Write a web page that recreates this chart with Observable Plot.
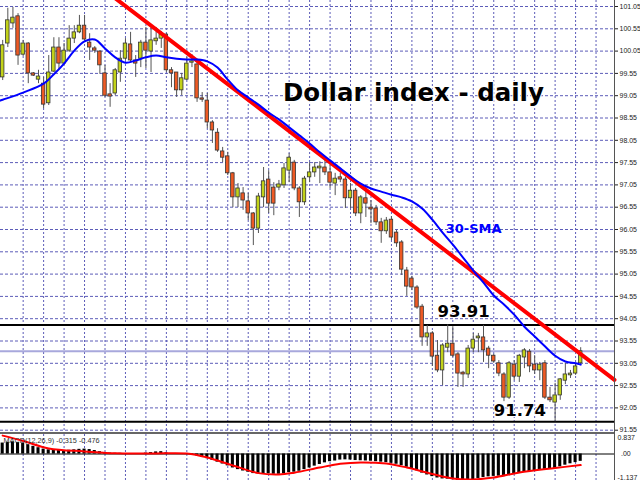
<!DOCTYPE html>
<html><head><meta charset="utf-8">
<script src="https://cdn.jsdelivr.net/npm/d3@7"></script>
<script src="https://cdn.jsdelivr.net/npm/@observablehq/plot@0.6"></script>
<style>
html,body{margin:0;padding:0;background:#fff;}
#chart{width:640px;height:480px;position:relative;overflow:hidden;background:#fff;}
#chart svg{display:block;}
.vline{position:absolute;left:614px;top:0;width:1px;height:480px;background:#555;}
.sep{position:absolute;left:0;top:432px;width:614px;height:2px;background:#666;}
</style></head><body><div id="chart"></div>
<script>
// ---- data (daily candles, index 0..113) ----
const openP = [99.46,100.22,100.67,100.83,99.97,100.22,99.55,99.41,99.32,98.88,
99.59,100.13,99.77,100.06,100.33,100.47,100.62,100.24,100.11,100.04,
99.55,99.08,99.10,99.57,99.88,100.20,99.84,99.88,100.24,100.04,
100.27,100.33,100.42,99.62,99.57,99.17,99.41,99.79,99.75,98.99,
98.94,98.45,98.22,97.80,97.69,97.31,96.77,96.86,96.68,96.41,
96.07,96.77,97.17,96.99,96.99,97.04,97.37,97.55,96.97,96.66,
97.22,97.33,97.42,97.44,97.33,97.08,97.22,97.17,96.75,96.92,
96.41,96.75,96.54,96.52,96.21,96.01,96.27,95.98,95.76,95.13,
94.95,94.75,94.32,93.63,93.72,93.22,92.89,93.40,93.49,93.25,
92.84,92.80,93.38,93.61,93.63,93.38,93.22,93.05,92.80,92.28,
93.02,92.75,93.18,93.31,93.02,92.89,93.05,92.28,92.17,92.33,
92.66,92.78,92.82,93.05];
const highP = [100.29,101.01,101.03,100.89,100.29,100.24,99.57,99.62,99.46,99.95,
100.35,100.35,100.22,100.62,100.62,100.85,100.85,100.44,100.15,100.06,
99.73,99.32,99.66,100.06,100.33,100.47,99.95,100.29,100.58,100.62,
100.58,100.49,100.44,99.68,99.57,99.55,99.91,99.97,99.79,99.12,
99.10,98.49,98.31,97.89,97.78,97.33,97.08,96.99,96.86,96.43,
96.86,97.44,97.37,97.10,97.15,97.53,97.75,97.60,97.01,97.24,
97.55,97.55,97.57,97.60,97.48,97.31,97.31,97.22,97.08,96.97,
96.81,97.04,96.70,96.59,96.30,96.32,96.34,96.03,95.80,95.20,
95.00,94.79,94.37,93.90,93.76,93.56,93.49,93.91,93.87,93.29,
92.87,93.45,93.72,93.72,93.90,93.43,93.25,93.11,92.84,93.09,
93.11,93.25,93.38,93.36,93.22,93.07,93.11,92.51,92.60,92.71,
93.05,92.89,93.05,93.40];
const lowP = [99.39,100.13,100.56,99.73,99.93,99.32,99.48,99.32,98.76,98.83,
99.57,99.62,99.73,100.02,100.22,100.44,100.29,99.84,100.00,99.53,
99.01,98.79,99.05,99.35,99.84,99.79,99.46,99.68,99.66,99.57,
100.18,100.11,99.57,99.23,99.01,99.05,99.39,99.68,98.90,98.90,
98.31,97.98,97.78,97.55,97.26,96.54,96.54,96.48,96.25,95.69,
95.96,96.54,96.41,96.36,96.92,96.97,97.10,96.92,96.32,96.59,
97.10,97.22,97.08,97.26,96.97,96.81,97.10,96.52,96.52,96.34,
96.18,96.32,96.18,96.14,95.74,95.94,95.80,95.65,95.02,94.55,
94.68,94.26,93.43,93.43,92.98,92.84,92.55,93.29,93.18,92.51,
92.51,92.71,93.29,93.29,93.07,92.93,93.05,92.75,92.19,92.24,
92.66,92.62,92.93,92.84,92.80,92.66,92.24,92.17,91.74,92.22,
92.57,92.71,92.78,93.02];
const closeP = [100.18,100.74,100.80,99.95,100.22,99.55,99.50,99.48,98.85,99.57,
100.13,99.77,100.06,100.33,100.47,100.62,100.31,100.13,100.06,99.73,
99.05,99.03,99.62,99.88,100.22,99.84,99.77,100.24,100.06,100.29,
100.33,100.42,99.62,99.55,99.17,99.44,99.77,99.82,98.99,98.96,
98.45,98.27,97.82,97.66,97.31,96.77,96.97,96.70,96.41,96.07,
96.79,97.13,96.63,96.63,97.06,97.42,97.66,96.97,96.66,97.19,
97.33,97.44,97.46,97.33,97.10,97.19,97.17,96.75,96.92,96.41,
96.77,96.63,96.50,96.21,96.01,96.25,95.87,95.74,95.15,94.77,
94.75,94.30,93.63,93.72,93.20,92.89,93.45,93.49,93.22,92.82,
92.80,93.38,93.58,93.65,93.34,93.22,93.09,92.82,92.28,93.05,
92.75,93.22,93.34,92.98,92.89,93.02,92.28,92.22,92.33,92.69,
92.80,92.82,92.98,93.32];

// 30-period SMA
const smaIdx = [-0.5,0,4,8,10,12,14,16,18,20,22,24,26,28,30,32,34,36,38,40,42,44,46,48,50,52,54,56,58,60,62,64,66,68,70,72,74,76,78,80,82,84,86,88,90,92,94,96,98,100,102,104,106,108,110,112,113];
const smaVal = [98.94,98.96,99.12,99.32,99.53,99.77,100.06,100.27,100.31,100.11,99.91,99.79,99.84,99.91,99.95,99.91,99.88,99.86,99.86,99.82,99.68,99.41,99.17,99.01,98.85,98.67,98.52,98.34,98.16,97.98,97.78,97.60,97.42,97.24,97.08,96.97,96.90,96.83,96.77,96.68,96.52,96.27,95.98,95.71,95.42,95.13,94.86,94.57,94.37,94.14,93.87,93.65,93.43,93.22,93.09,93.05,93.02];

// red trend line (bar index, price), ends at the price axis
const trendIdx = [20, 119.6];
const trendVal = [101.41, 92.68];

// horizontal levels
const levelLines = [93.91, 91.74];
const currentPrice = 93.32;
const highlightLabels = [93.91, 93.32, 91.74];
const priceTicks = [91.55,92.05,92.55,93.05,93.55,94.05,94.55,95.05,95.55,96.05,96.55,97.05,97.55,98.05,98.55,99.05,99.55,100.05,100.55,101.05];

// MACD(12,26,9)
const macdHist = [0.47,0.50,0.52,0.50,0.45,0.40,0.33,0.27,0.21,0.18,
0.17,0.16,0.15,0.16,0.18,0.20,0.21,0.19,0.15,0.10,
0.06,0.04,0.03,0.03,0.02,0.02,0.01,0.02,0.04,0.06,
0.09,0.10,0.05,0.02,-0.01,-0.02,-0.02,-0.04,-0.08,-0.14,
-0.20,-0.27,-0.35,-0.43,-0.51,-0.60,-0.67,-0.73,-0.78,-0.84,
-0.85,-0.84,-0.85,-0.87,-0.87,-0.85,-0.80,-0.78,-0.74,-0.67,
-0.60,-0.52,-0.45,-0.38,-0.33,-0.30,-0.26,-0.25,-0.26,-0.28,
-0.29,-0.30,-0.31,-0.33,-0.35,-0.37,-0.40,-0.44,-0.50,-0.57,
-0.64,-0.72,-0.82,-0.90,-0.97,-1.03,-1.07,-1.08,-1.10,-1.13,
-1.15,-1.14,-1.10,-1.05,-1.01,-0.98,-0.96,-0.95,-0.97,-0.93,
-0.88,-0.84,-0.78,-0.75,-0.72,-0.68,-0.66,-0.65,-0.62,-0.55,
-0.48,-0.42,-0.37,-0.315];
const sigIdx = [0,4,9,16,22,29,36,40,45,50,54,57,62,66,70,75,79,84,88,92,96,101,108,113];
const sigVal = [0.79,0.56,0.24,0.11,0.03,0.02,0.02,-0.15,-0.49,-0.82,-0.88,-0.80,-0.58,-0.42,-0.36,-0.41,-0.58,-0.86,-1.05,-1.09,-1.01,-0.79,-0.60,-0.476];
const macdScale = [0.837, -1.137];
const macdLabel = "MACD(12,26,9) -0.315 -0.476";

// annotations
const titleText = "Dollar index - daily";
const smaText = "30-SMA";

// ---- build tables ----
const candles = openP.map((o, i) => ({i, o, h: highP[i], l: lowP[i], c: closeP[i], up: closeP[i] >= o}));
const sma = smaIdx.map((i, k) => ({i, v: smaVal[k]}));
const trend = trendIdx.map((i, k) => ({i, v: trendVal[k]}));
const hist = macdHist.map((v, i) => ({i, v}));
const sig = sigIdx.map((i, k) => ({i, v: sigVal[k]}));
const gridIdx = d3.range(4, 117, 4);

const GRID = "#5c5cb8";
const FONT = "'Liberation Sans Narrow','Liberation Sans',Arial,sans-serif";
const BIG = "'DejaVu Sans',sans-serif";
const xScale = {type: "linear", domain: [0, 113], range: [2.2, 580.2], axis: null};

const main = Plot.plot({
  width: 640, height: 434,
  marginLeft: 0, marginRight: 26, marginTop: 0, marginBottom: 0,
  x: xScale,
  y: {domain: [91.55, 101.05], range: [429.7, 6], axis: null},
  style: {background: "white", color: "#222", fontFamily: FONT, overflow: "hidden"},
  marks: [
    Plot.ruleY(priceTicks, {stroke: GRID, strokeDasharray: "3,2", strokeWidth: 1}),
    Plot.ruleX(gridIdx, {stroke: GRID, strokeDasharray: "2,2", strokeWidth: 1}),
    Plot.ruleY([currentPrice], {stroke: "#a8a8dc", strokeWidth: 2}),
    Plot.ruleY(levelLines, {stroke: "#000", strokeWidth: 2}),
    Plot.ruleX(candles, {x: "i", y1: "l", y2: "h", stroke: "#555", strokeWidth: 1}),
    Plot.rect(candles, {x1: d => d.i - 0.34, x2: d => d.i + 0.34, y1: "o", y2: "c",
      fill: d => d.up ? "#c2d21a" : "#ee5a24", stroke: "#333", strokeWidth: 0.8}),
    Plot.line(trend, {x: "i", y: "v", stroke: "#ff0000", strokeWidth: 4}),
    Plot.line(sma, {x: "i", y: "v", stroke: "#0000ff", strokeWidth: 2, curve: "catmull-rom"}),
    Plot.axisY(priceTicks, {anchor: "right", tickSize: 3, tickPadding: 2, fontSize: 7, tickFormat: d => d.toFixed(2), label: null, fontFamily: FONT}),
    Plot.text(highlightLabels, {y: d => d, text: d => d.toFixed(2), frameAnchor: "right", dx: 3, textAnchor: "start",
      fill: "white", fontSize: 7, fontFamily: FONT, ariaLabel: "hl"}),
    Plot.text([titleText], {x: 54.8, y: 99.10, text: d => d, textAnchor: "start", fontSize: 24.5, fontWeight: "bold",
      fontFamily: BIG, fill: "black", stroke: "white", strokeWidth: 2}),
    Plot.text([smaText], {x: 86.6, y: 96.07, text: d => d, textAnchor: "start", fontSize: 13, fontWeight: "bold",
      fontFamily: BIG, fill: "#0000ff"}),
    Plot.text([levelLines[0]], {x: 85, y: 94.21, text: d => d.toFixed(2), textAnchor: "start", fontSize: 16.5, fontWeight: "bold",
      fontFamily: BIG, fill: "black", stroke: "white", strokeWidth: 2}),
    Plot.text([levelLines[1]], {x: 96, y: 91.99, text: d => d.toFixed(2), textAnchor: "start", fontSize: 16.5, fontWeight: "bold",
      fontFamily: BIG, fill: "black", stroke: "white", strokeWidth: 2})
  ]
});

const macd = Plot.plot({
  width: 640, height: 46,
  marginLeft: 0, marginRight: 26, marginTop: 0, marginBottom: 0,
  x: xScale,
  y: {domain: [macdScale[1], macdScale[0]], range: [46, 0], axis: null},
  style: {background: "white", color: "#222", fontFamily: FONT, overflow: "hidden"},
  marks: [
    Plot.ruleX(gridIdx, {stroke: GRID, strokeDasharray: "2,2", strokeWidth: 1}),
    Plot.rect(hist, {x1: d => d.i - 0.3, x2: d => d.i + 0.3, y1: 0, y2: "v", fill: "#000"}),
    Plot.ruleY([0], {stroke: "#000", strokeWidth: 1}),
    Plot.line(sig, {x: "i", y: "v", stroke: "#ff0000", strokeWidth: 2, curve: "catmull-rom"}),
    Plot.text([macdLabel], {frameAnchor: "top-left", text: d => d, dx: 3, dy: 3, fontSize: 7.3, fill: "#333", fontFamily: FONT, textAnchor: "start", lineAnchor: "top"}),
    Plot.text([macdScale[0]], {y: d => d, text: d => d.toFixed(3), frameAnchor: "right", dx: 3, dy: 3.5, textAnchor: "start", fontSize: 7, fontFamily: FONT, fill: "#222"}),
    Plot.text([macdScale[1]], {y: d => d, text: d => d.toFixed(3), frameAnchor: "right", dx: 3, dy: -2.5, textAnchor: "start", fontSize: 7, fontFamily: FONT, fill: "#222"}),
    Plot.text([0], {y: d => d, text: () => "0", frameAnchor: "right", dx: 3, textAnchor: "start", fontSize: 7, fontFamily: FONT, fill: "white", ariaLabel: "hl"}),
    Plot.text([0], {y: d => d, text: () => ".00", frameAnchor: "right", dx: 6.5, textAnchor: "start", fontSize: 7, fontFamily: FONT, fill: "#222"})
  ]
});

const root = document.getElementById("chart");
root.appendChild(main);
root.appendChild(macd);
const sep = document.createElement("div"); sep.className = "sep"; root.appendChild(sep);
const vl = document.createElement("div"); vl.className = "vline"; root.appendChild(vl);

function addBoxes(svg) {
  d3.select(svg).selectAll('g[aria-label="hl"] text').each(function() {
    const b = this.getBBox();
    const r = document.createElementNS("http://www.w3.org/2000/svg", "rect");
    r.setAttribute("x", b.x - 1);
    r.setAttribute("y", b.y + 0.5);
    r.setAttribute("width", b.width + 2);
    r.setAttribute("height", b.height - 1);
    r.setAttribute("fill", "#000");
    const t = this.getAttribute("transform");
    if (t) r.setAttribute("transform", t);
    this.parentNode.insertBefore(r, this);
  });
}
addBoxes(main);
addBoxes(macd);
</script>
</body></html>
